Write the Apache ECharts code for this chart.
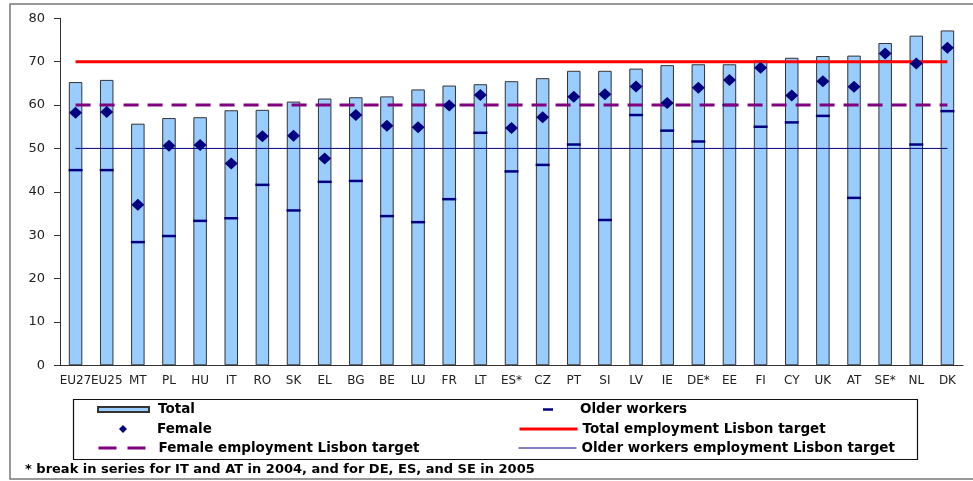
<!DOCTYPE html>
<html lang="en">
<head>
    <meta charset="UTF-8">
    <title>Employment rates and Lisbon targets</title>
    <script src="https://cdn.jsdelivr.net/npm/echarts@6/dist/echarts.min.js"></script>
    <style>
        html, body { margin: 0; padding: 0; background: #fff; }
    </style>
</head>
<body>
    <div id="main" style="width: 973px; height: 481px;"></div>
    <script>
        // categories and values
        var categories = ['EU27', 'EU25', 'MT', 'PL', 'HU', 'IT', 'RO', 'SK', 'EL', 'BG', 'BE', 'LU', 'FR', 'LT', 'ES*',
            'CZ', 'PT', 'SI', 'LV', 'IE', 'DE*', 'EE', 'FI', 'CY', 'UK', 'AT', 'SE*', 'NL', 'DK'];
        var total = [65.3, 65.8, 55.7, 57.0, 57.2, 58.8, 58.9, 60.8, 61.5, 61.8, 62.0, 63.6, 64.5, 64.8, 65.5,
            66.2, 67.9, 67.9, 68.4, 69.2, 69.4, 69.4, 70.3, 70.9, 71.3, 71.4, 74.3, 76.0, 77.2];
        var female = [58.2, 58.4, 37.0, 50.6, 50.8, 46.5, 52.8, 52.9, 47.7, 57.7, 55.2, 54.9, 59.9, 62.3, 54.7,
            57.2, 61.9, 62.5, 64.3, 60.5, 64.0, 65.8, 68.6, 62.2, 65.5, 64.2, 71.9, 69.6, 73.2];
        var older = [45.0, 45.0, 28.4, 29.8, 33.3, 33.9, 41.6, 35.7, 42.3, 42.5, 34.4, 33.0, 38.3, 53.6, 44.7,
            46.2, 50.9, 33.5, 57.7, 54.1, 51.6, 60.0, 55.0, 56.0, 57.5, 38.6, 70.0, 50.9, 58.6];
        var yTicks = [0, 10, 20, 30, 40, 50, 60, 70, 80];

        // Lisbon targets
        var totalTarget = 70;
        var femaleTarget = 60;
        var olderTarget = 50;

        var footnote = '* break in series for IT and AT in 2004, and for DE, ES, and SE in 2005';

        var first = categories[0];
        var last = categories[categories.length - 1];
        function targetLine(v) {
            return [[first, v], [last, v]];
        }

        var legendFont = {
            color: '#000',
            fontFamily: 'DejaVu Sans',
            fontWeight: 'bold',
            fontSize: 13.5,
            lineHeight: 14
        };
        function legendItem(name, left, top, w, h, extra) {
            return {
                data: [name],
                left: left,
                top: top,
                padding: 0,
                itemWidth: w,
                itemHeight: h,
                selectedMode: false,
                textStyle: Object.assign({}, legendFont, { padding: [0, 0, 0, extra] })
            };
        }
        // line legends: just the line, no marker in the middle
        var noMarker = { color: 'rgba(0,0,0,0)', borderColor: 'rgba(0,0,0,0)', borderWidth: 0 };

        var chart = echarts.init(document.getElementById('main'));
        chart.setOption({
            backgroundColor: '#fff',
            animation: false,
            grid: {
                left: 60,
                right: 10,
                top: 18.3,
                bottom: 115.7
            },
            xAxis: {
                type: 'category',
                data: categories,
                axisLine: { lineStyle: { color: '#333', width: 1 } },
                axisTick: { length: 5, lineStyle: { color: '#333' } },
                axisLabel: {
                    interval: 0,
                    margin: 10,
                    color: '#222',
                    fontFamily: 'DejaVu Sans',
                    fontSize: 12
                }
            },
            yAxis: {
                type: 'value',
                min: yTicks[0],
                max: yTicks[yTicks.length - 1],
                interval: 10,
                splitLine: { show: false },
                axisLine: { show: true, lineStyle: { color: '#333', width: 1 } },
                axisTick: { show: true, length: 6, lineStyle: { color: '#333' } },
                axisLabel: {
                    margin: 15,
                    color: '#222',
                    fontFamily: 'DejaVu Sans',
                    fontSize: 13
                }
            },
            legend: [
                Object.assign(legendItem('Total', 97, 402.5, 51, 5, 4), { icon: 'rect' }),
                Object.assign(legendItem('Female', 119, 422, 8, 8, 25), { icon: 'diamond' }),
                Object.assign(legendItem('Female employment Lisbon target', 97, 441, 51, 14, 4),
                    { lineStyle: { type: [18, 11], width: 3 }, itemStyle: noMarker }),
                Object.assign(legendItem('Older workers', 543, 402.5, 10, 2.5, 22), { icon: 'rect' }),
                Object.assign(legendItem('Total employment Lisbon target', 518, 422, 58, 14, 0),
                    { lineStyle: { width: 3 }, itemStyle: noMarker }),
                Object.assign(legendItem('Older workers employment Lisbon target', 518, 441, 58, 14, 0),
                    { lineStyle: { width: 1 }, itemStyle: noMarker })
            ],
            graphic: [
                {
                    type: 'rect',
                    shape: { x: 10, y: 4, width: 1000, height: 475 },
                    style: { fill: 'none', stroke: '#777', lineWidth: 1.5 },
                    silent: true
                },
                {
                    type: 'rect',
                    shape: { x: 73.5, y: 399.5, width: 844, height: 60 },
                    style: { fill: 'none', stroke: '#111', lineWidth: 1.2 },
                    silent: true
                },
                {
                    type: 'text',
                    x: 25,
                    y: 470,
                    style: {
                        text: footnote,
                        fill: '#000',
                        font: 'bold 13px "DejaVu Sans"',
                        verticalAlign: 'middle'
                    },
                    silent: true
                }
            ],
            series: [
                {
                    name: 'Total',
                    type: 'bar',
                    data: total,
                    barWidth: 13.5,
                    z: 2,
                    itemStyle: {
                        color: '#99CCFF',
                        borderColor: '#333',
                        borderWidth: 1
                    }
                },
                {
                    name: 'Older workers',
                    type: 'scatter',
                    data: older,
                    symbol: 'rect',
                    symbolSize: [14, 2.5],
                    z: 3,
                    itemStyle: { color: '#000080', opacity: 1 }
                },
                {
                    name: 'Female employment Lisbon target',
                    type: 'line',
                    data: targetLine(femaleTarget),
                    symbol: 'none',
                    z: 4,
                    lineStyle: { color: '#800080', width: 3, type: [15, 9] },
                    itemStyle: { color: '#800080' }
                },
                {
                    name: 'Total employment Lisbon target',
                    type: 'line',
                    data: targetLine(totalTarget),
                    symbol: 'none',
                    z: 4,
                    lineStyle: { color: '#FF0000', width: 3 },
                    itemStyle: { color: '#FF0000' }
                },
                {
                    name: 'Older workers employment Lisbon target',
                    type: 'line',
                    data: targetLine(olderTarget),
                    symbol: 'none',
                    z: 4,
                    lineStyle: { color: '#000080', width: 1 },
                    itemStyle: { color: '#000080' }
                },
                {
                    name: 'Female',
                    type: 'scatter',
                    data: female,
                    symbol: 'diamond',
                    symbolSize: [13, 12],
                    z: 5,
                    itemStyle: { color: '#000080', opacity: 1 }
                }
            ]
        });
    </script>
</body>
</html>
